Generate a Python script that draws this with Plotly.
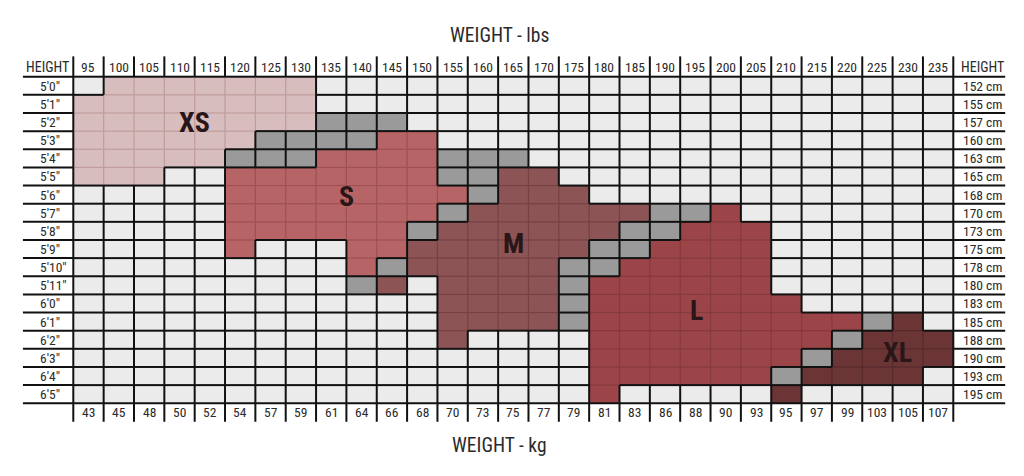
import plotly.graph_objects as go

# ---------------- data ----------------
weights_lbs = ["95", "100", "105", "110", "115", "120", "125", "130", "135", "140",
               "145", "150", "155", "160", "165", "170", "175", "180", "185", "190",
               "195", "200", "205", "210", "215", "220", "225", "230", "235"]
weights_kg = ["43", "45", "48", "50", "52", "54", "57", "59", "61", "64",
              "66", "68", "70", "73", "75", "77", "79", "81", "83", "86",
              "88", "90", "93", "95", "97", "99", "103", "105", "107"]
heights_ft = ["5'0\"", "5'1\"", "5'2\"", "5'3\"", "5'4\"", "5'5\"", "5'6\"", "5'7\"", "5'8\"",
              "5'9\"", "5'10\"", "5'11\"", "6'0\"", "6'1\"", "6'2\"", "6'3\"", "6'4\"", "6'5\""]
heights_cm = ["152 cm", "155 cm", "157 cm", "160 cm", "163 cm", "165 cm", "168 cm", "170 cm",
              "173 cm", "175 cm", "178 cm", "180 cm", "183 cm", "185 cm", "188 cm", "190 cm",
              "193 cm", "195 cm"]

# one string per height row, one char per weight column
# '.' = no size, 'g' = between sizes, X = XS, S, M, L, Z = XL
size_grid = [
    ".XXXXXXX.....................",
    "XXXXXXXX.....................",
    "XXXXXXXXggg..................",
    "XXXXXXggggSS.................",
    "XXXXXgggSSSSggg..............",
    "XXX..SSSSSSSggMM.............",
    ".....SSSSSSSSgMMM............",
    ".....SSSSSSSgMMMMMMggL.......",
    ".....SSSSSSgMMMMMMggLLL......",
    ".....S...SSMMMMMMggLLLL......",
    ".........SgMMMMMggLLLLL......",
    ".........gM.MMMMgLLLLLL......",
    "............MMMMgLLLLLLL.....",
    "............MMMMgLLLLLLLLLgZ.",
    "............M....LLLLLLLLgZZZ",
    ".................LLLLLLLgZZZZ",
    ".................LLLLLLgZZZZ.",
    ".................L.....Z.....",
]

size_codes = [".", "g", "X", "S", "M", "L", "Z"]
# label name, x (column), y (row)
size_label_pos = [("XS", 3.5, 2.0), ("S", 8.5, 6.1), ("M", 14.0, 8.7),
                  ("L", 20.05, 12.4), ("XL", 26.65, 14.7)]

# ---------------- styles ----------------
fill_colors = ["#ebebeb", "#9a9a9a", "#d8bdbe", "#b76466", "#8d5456", "#9c4548", "#6b3536"]
inner_colors = {"X": "#c09c9d", "S": "#9e5053", "M": "#744244", "L": "#853a3d", "Z": "#572a2b"}
FONT = "'Liberation Sans Narrow', 'Roboto Condensed', 'DejaVu Sans Condensed', 'Arial Narrow', sans-serif"
TXT = "#2a2a2a"

nR, nC = len(size_grid), len(size_grid[0])
colored = set("XSMLZ")

fig = go.Figure()

z = [[size_codes.index(c) for c in row] for row in size_grid]
n = len(size_codes)
cscale = []
for k, col in enumerate(fill_colors):
    cscale.append([k / n, col])
    cscale.append([(k + 1) / n, col])
fig.add_trace(go.Heatmap(z=z, x=list(range(nC)), y=list(range(nR)), colorscale=cscale,
                         zmin=-0.5, zmax=n - 0.5, showscale=False, hoverinfo="skip"))

black = ([], [])
inner = {c: ([], []) for c in colored}


def add(lst, x0, y0, x1, y1):
    lst[0].extend([x0, x1, None])
    lst[1].extend([y0, y1, None])


# vertical boundaries
for r in range(nR):
    for b in range(nC + 1):
        a = size_grid[r][b - 1] if b > 0 else None
        c = size_grid[r][b] if b < nC else None
        if a is not None and a == c and a in colored:
            add(inner[a], b - 0.5, r - 0.5, b - 0.5, r + 0.5)
        else:
            add(black, b - 0.5, r - 0.5, b - 0.5, r + 0.5)
# horizontal boundaries
for h in range(nR + 1):
    for col in range(nC):
        a = size_grid[h - 1][col] if h > 0 else None
        c = size_grid[h][col] if h < nR else None
        if a is not None and a == c and a in colored:
            add(inner[a], col - 0.5, h - 0.5, col + 0.5, h - 0.5)
        else:
            add(black, col - 0.5, h - 0.5, col + 0.5, h - 0.5)
    # label underlines on both sides
    add(black, -2.16, h - 0.5, -0.5, h - 0.5)
    add(black, nC - 0.5, h - 0.5, 30.21, h - 0.5)
# header / footer separators
for b in range(nC + 1):
    add(black, b - 0.5, -1.62, b - 0.5, -0.5)
    add(black, b - 0.5, nR - 0.5, b - 0.5, nR + 0.52)

for k, (xs, ys) in inner.items():
    fig.add_trace(go.Scatter(x=xs, y=ys, mode="lines", hoverinfo="skip",
                             line=dict(color=inner_colors[k], width=1.2)))
fig.add_trace(go.Scatter(x=black[0], y=black[1], mode="lines", hoverinfo="skip",
                         line=dict(color="#111111", width=2)))

ann = []
for i, w in enumerate(weights_lbs):
    ann.append(dict(x=i, y=-1.05, text=w, xanchor="center", yanchor="middle",
                    font=dict(size=13.5, color=TXT, family=FONT)))
for i, w in enumerate(weights_kg):
    ann.append(dict(x=i, y=18.0, text=w, xanchor="center", yanchor="middle",
                    font=dict(size=13.5, color=TXT, family=FONT)))
for r, hft in enumerate(heights_ft):
    ann.append(dict(x=-1.68, y=r, text=hft, xanchor="left", yanchor="middle",
                    font=dict(size=13.5, color=TXT, family=FONT)))
for r, hcm in enumerate(heights_cm):
    ann.append(dict(x=28.74, y=r, text=hcm, xanchor="left", yanchor="middle",
                    font=dict(size=13.5, color=TXT, family=FONT)))
ann.append(dict(x=-2.14, y=-1.05, text="HEIGHT", xanchor="left", yanchor="middle",
                font=dict(size=14, color=TXT, family=FONT)))
ann.append(dict(x=28.7, y=-1.05, text="HEIGHT", xanchor="left", yanchor="middle",
                font=dict(size=14, color=TXT, family=FONT)))
ann.append(dict(x=13.53, y=-2.75, text="WEIGHT - lbs", xanchor="center", yanchor="middle",
                font=dict(size=19.5, color=TXT, family=FONT)))
ann.append(dict(x=13.53, y=19.85, text="WEIGHT - kg", xanchor="center", yanchor="middle",
                font=dict(size=19.5, color=TXT, family=FONT)))
for name, x, y in size_label_pos:
    ann.append(dict(x=x, y=y, text="<b>" + name + "</b>", xanchor="center", yanchor="middle",
                    font=dict(size=28, color="#2a1616", family=FONT)))
for a in ann:
    a.update(showarrow=False, xref="x", yref="y")

# the page body adds an 8px offset; the figure spans the remaining window area
fig.update_layout(
    width=1016, height=468, margin=dict(l=0, r=0, t=0, b=0),
    paper_bgcolor="white", plot_bgcolor="white", showlegend=False,
    xaxis=dict(range=[-2.652, 30.83], visible=False, fixedrange=True),
    yaxis=dict(range=[21.51, -4.287], visible=False, fixedrange=True),
    annotations=ann,
)

fig.write_html("out.html")
